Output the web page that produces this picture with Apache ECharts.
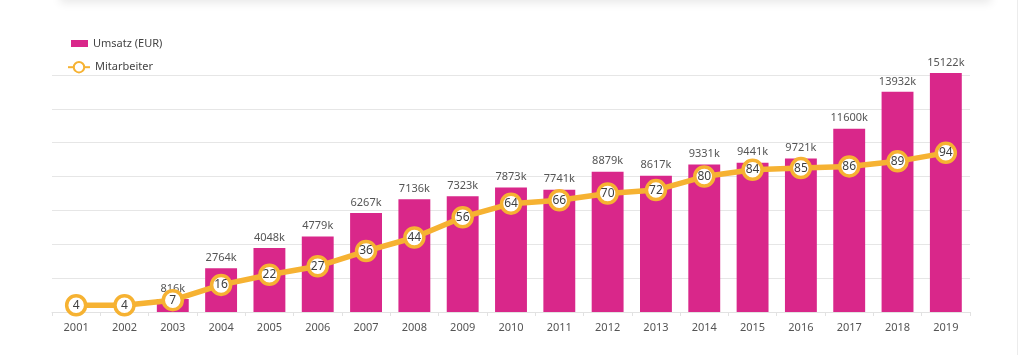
<!DOCTYPE html>
<html>
<head>
<meta charset="utf-8">
<script src="https://cdn.jsdelivr.net/npm/echarts@6/dist/echarts.min.js"></script>
<style>
html,body{margin:0;padding:0;background:#fff;overflow:hidden;}
#wrap{position:relative;width:1021px;height:355px;overflow:hidden;}
#shadow{position:absolute;left:60px;right:30px;top:-20px;height:20px;box-shadow:0 3px 10px rgba(0,0,0,0.09);background:#fff;}
#edge{position:absolute;right:3px;top:0;bottom:0;width:1px;background:#ececec;}
#chart{position:absolute;left:0;top:0;width:1021px;height:355px;}
</style>
</head>
<body>
<div id="wrap">
<div id="shadow"></div>
<div id="edge"></div>
<div id="chart"></div>
</div>
<script>
const years = ['2001','2002','2003','2004','2005','2006','2007','2008','2009','2010','2011','2012','2013','2014','2015','2016','2017','2018','2019'];
const umsatz = [null,null,816,2764,4048,4779,6267,7136,7323,7873,7741,8879,8617,9331,9441,9721,11600,13932,15122];
const mitarbeiter = [4,4,7,16,22,27,36,44,56,64,66,70,72,80,84,85,86,89,94];
const seriesNames = ['Umsatz (EUR)','Mitarbeiter'];

const FONT = '"Noto Sans", "Open Sans", sans-serif';
const chart = echarts.init(document.getElementById('chart'), null, {renderer:'canvas'});
chart.setOption({
  animation:false,
  textStyle:{fontFamily:FONT},
  legend:[
    {
      left:71, top:38, padding:0,
      itemWidth:17, itemHeight:7, selectedMode:false,
      textStyle:{fontFamily:FONT,fontSize:11,color:'#444'},
      data:[{name:seriesNames[0], icon:'rect'}]
    },
    {
      left:67, top:61, padding:0,
      itemWidth:22, itemHeight:13, selectedMode:false,
      textStyle:{fontFamily:FONT,fontSize:11,color:'#444'},
      data:[{name:seriesNames[1]}]
    }
  ],
  grid:{left:52,right:51,top:75,bottom:43,containLabel:false},
  xAxis:{
    type:'category', data:years,
    axisLine:{lineStyle:{color:'#e2e2e2'}},
    axisTick:{show:true,length:4,lineStyle:{color:'#e2e2e2'}},
    axisLabel:{color:'#555',fontSize:11,fontFamily:FONT,margin:10}
  },
  yAxis:[
    {type:'value',min:0,max:15000,show:false,splitLine:{show:false}},
    {type:'value',min:0,max:140,interval:20,position:'left',
     axisLabel:{show:false},axisLine:{show:false},axisTick:{show:false},
     splitLine:{lineStyle:{color:'#e6e6e6'}}}
  ],
  series:[
    {
      name:seriesNames[0], type:'bar', yAxisIndex:0, data:umsatz,
      barWidth:'66%', clip:false,
      itemStyle:{color:'#D9278A'},
      label:{show:true,position:'top',distance:5,color:'#555',fontSize:11,fontFamily:FONT,
        formatter:p=>p.value==null?'':p.value+'k'}
    },
    {
      name:seriesNames[1], type:'line', yAxisIndex:1, data:mitarbeiter,
      z:5,
      lineStyle:{color:'#F6B232',width:5.5},
      symbol:'circle', symbolSize:19,
      itemStyle:{color:'#fff',borderColor:'#F6B232',borderWidth:3.5},
      label:{show:true,position:'inside',color:'#3f3f3f',fontSize:12,fontFamily:FONT}
    }
  ]
});
</script>
</body>
</html>
